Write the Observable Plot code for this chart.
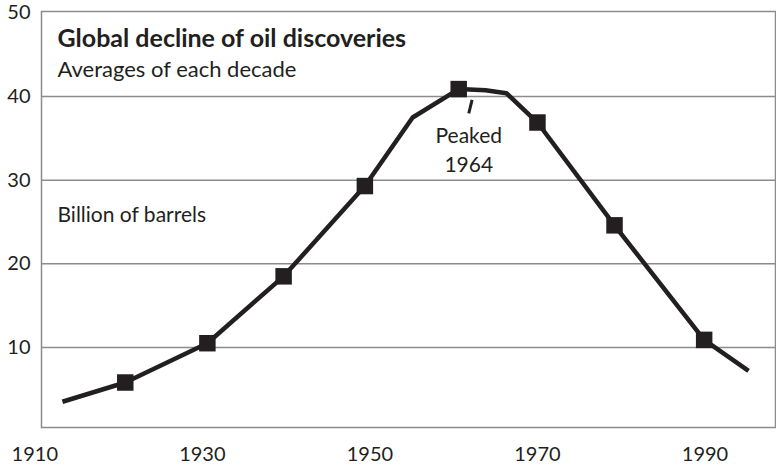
<!DOCTYPE html>
<html>
<head>
<meta charset="utf-8">
<script src="https://cdn.jsdelivr.net/npm/d3@7"></script>
<script src="https://cdn.jsdelivr.net/npm/@observablehq/plot@0.6"></script>
<style>
  html, body { margin: 0; padding: 0; background: #fff; }
</style>
</head>
<body>
<div id="chart"></div>
<script>
// Line vertices (year, billion barrels)
const lineYears  = [1913.3, 1920.8, 1930.6, 1939.7, 1949.4, 1955.1, 1960.6, 1963.8, 1966.3, 1970.0, 1979.2, 1989.9, 1995.2];
const lineValues = [3.5, 5.8, 10.5, 18.5, 29.3, 37.5, 40.9, 40.75, 40.4, 36.9, 24.6, 10.9, 7.2];
// Decade-average markers
const markerYears  = [1920.8, 1930.6, 1939.7, 1949.4, 1960.6, 1970.0, 1979.2, 1989.9];
const markerValues = [5.8, 10.5, 18.5, 29.3, 40.9, 36.9, 24.6, 10.9];
// Axis ticks
const xTicks = [1910, 1930, 1950, 1970, 1990];
const yTicks = [10, 20, 30, 40, 50];
const gridValues = [10, 20, 30, 40];
// Texts
const title = "Global decline of oil discoveries";
const subtitle = "Averages of each decade";
const unitLabel = "Billion of barrels";
const peakLabel = "Peaked\n1964";
const peakLabelPos = {x: 1961.8, y: 33.8};
const peakTick = {x1: 1962.2, y1: 39.6, x2: 1961.8, y2: 38.0};

const lineData = lineYears.map((x, i) => ({x, y: lineValues[i]}));
const markerData = markerYears.map((x, i) => ({x, y: markerValues[i]}));

const ink = "#231f20";
const gray = "#8c8c8c";

const chart = Plot.plot({
  width: 776,
  height: 468,
  marginLeft: 41,
  marginRight: 1,
  marginTop: 11,
  marginBottom: 41,
  style: {fontFamily: "Lato, 'Open Sans', sans-serif", fontSize: "20px", color: ink, background: "#fff"},
  x: {domain: [1910, 1990], range: [34.3, 704.5]},
  y: {domain: [0, 50], range: [430.5, 12.5]},
  marks: [
    Plot.gridY(gridValues, {stroke: gray, strokeOpacity: 1, strokeWidth: 1.5}),
    Plot.frame({stroke: gray, strokeWidth: 1.5}),
    Plot.axisX(xTicks, {tickSize: 0, tickPadding: 19, tickFormat: d => String(d), fontSize: 20, fill: ink}),
    Plot.axisY(yTicks, {tickSize: 0, tickPadding: 11, tickFormat: d => String(d), fontSize: 20, fill: ink}),
    Plot.line(lineData, {x: "x", y: "y", stroke: ink, strokeWidth: 4.5, strokeLinejoin: "round", strokeLinecap: "butt"}),
    Plot.dot(markerData, {x: "x", y: "y", symbol: "square", r: 9.3, fill: ink, stroke: null}),
    Plot.link([peakTick], {x1: "x1", y1: "y1", x2: "x2", y2: "y2", stroke: ink, strokeWidth: 3}),
    Plot.text([peakLabel], {x: peakLabelPos.x, y: peakLabelPos.y, text: d => d, fontSize: 21, lineHeight: 1.36, fill: ink, textAnchor: "middle"}),
    Plot.text([title], {frameAnchor: "top-left", dx: 16, dy: 18, text: d => d, fontSize: 25, fontWeight: "bold", textAnchor: "start", lineAnchor: "top", fill: ink}),
    Plot.text([subtitle], {frameAnchor: "top-left", dx: 16, dy: 50, text: d => d, fontSize: 22, textAnchor: "start", lineAnchor: "top", fill: ink}),
    Plot.text([unitLabel], {frameAnchor: "top-left", dx: 16, dy: 196, text: d => d, fontSize: 21, textAnchor: "start", lineAnchor: "top", fill: ink})
  ]
});
document.getElementById("chart").appendChild(chart);
</script>
</body>
</html>
